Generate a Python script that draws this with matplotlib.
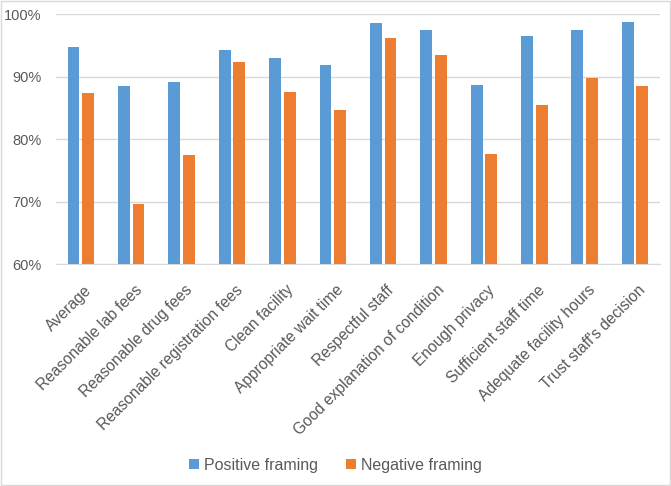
import matplotlib
matplotlib.use('Agg')
import numpy as np
import matplotlib.pyplot as plt
import matplotlib.transforms as mtransforms
from matplotlib.patches import Rectangle
from matplotlib.ticker import FuncFormatter

plt.rcParams['font.family'] = ['Liberation Sans', 'DejaVu Sans']

# survey items
categories = ['Average', 'Reasonable lab fees', 'Reasonable drug fees',
              'Reasonable registration fees', 'Clean facility',
              'Appropriate wait time', 'Respectful staff',
              'Good explanation of condition', 'Enough privacy',
              'Sufficient staff time', 'Adequate facility hours',
              "Trust staff's decision"]
positive = [94.8, 88.5, 89.2, 94.2, 93.0, 91.8, 98.6, 97.4, 88.7, 96.5, 97.4, 98.7]
negative = [87.4, 69.6, 77.5, 92.3, 87.6, 84.7, 96.1, 93.4, 77.6, 85.5, 89.8, 88.5]
yticks = [60, 70, 80, 90, 100]

blue = '#5B9BD5'
orange = '#ED7D31'
text_col = '#595959'
grid_col = '#D9D9D9'

fig = plt.figure(figsize=(6.71, 4.86), dpi=100)
ax = fig.add_axes([0.083, 0.456, 0.901, 0.515])

x = np.arange(len(categories))
w = 0.235
off = 0.145
ax.bar(x - off, positive, width=w, color=blue, label='Positive framing', zorder=3)
ax.bar(x + off, negative, width=w, color=orange, label='Negative framing', zorder=3)

ax.set_ylim(60, 100)
ax.set_xlim(-0.5, len(categories) - 0.5)
ax.set_yticks(yticks)
ax.yaxis.set_major_formatter(FuncFormatter(lambda v, p: '{:.0f}%'.format(v)))
ax.grid(axis='y', color=grid_col, linewidth=1, zorder=0)
for s in ['top', 'right', 'left']:
    ax.spines[s].set_visible(False)
ax.spines['bottom'].set_color(grid_col)
ax.tick_params(axis='both', length=0, colors=text_col, labelsize=10.5)
ax.tick_params(axis='y', pad=10)

# category labels drawn by hand so the anchor can be nudged
ax.set_xticks(x)
ax.set_xticklabels([])
shift = mtransforms.ScaledTranslation(3 / 100, -18 / 100, fig.dpi_scale_trans)
trans = mtransforms.blended_transform_factory(ax.transData, ax.transAxes) + shift
for xi, name in zip(x, categories):
    ax.text(xi, 0, name, transform=trans, rotation=45, ha='right', va='top',
            rotation_mode='anchor', fontsize=11.2, color=text_col, clip_on=False)

leg = fig.legend(loc='center', bbox_to_anchor=(0.5, 0.043), ncol=2, frameon=False,
                 fontsize=11.5, handlelength=0.6, handleheight=0.6,
                 columnspacing=1.8, handletextpad=0.3)
for t in leg.get_texts():
    t.set_color(text_col)

# chart border
fig.patches.append(Rectangle((0.002, 0.002), 0.996, 0.996, transform=fig.transFigure,
                             fill=False, edgecolor=grid_col, linewidth=1))

fig.savefig('out.png', dpi=100)
